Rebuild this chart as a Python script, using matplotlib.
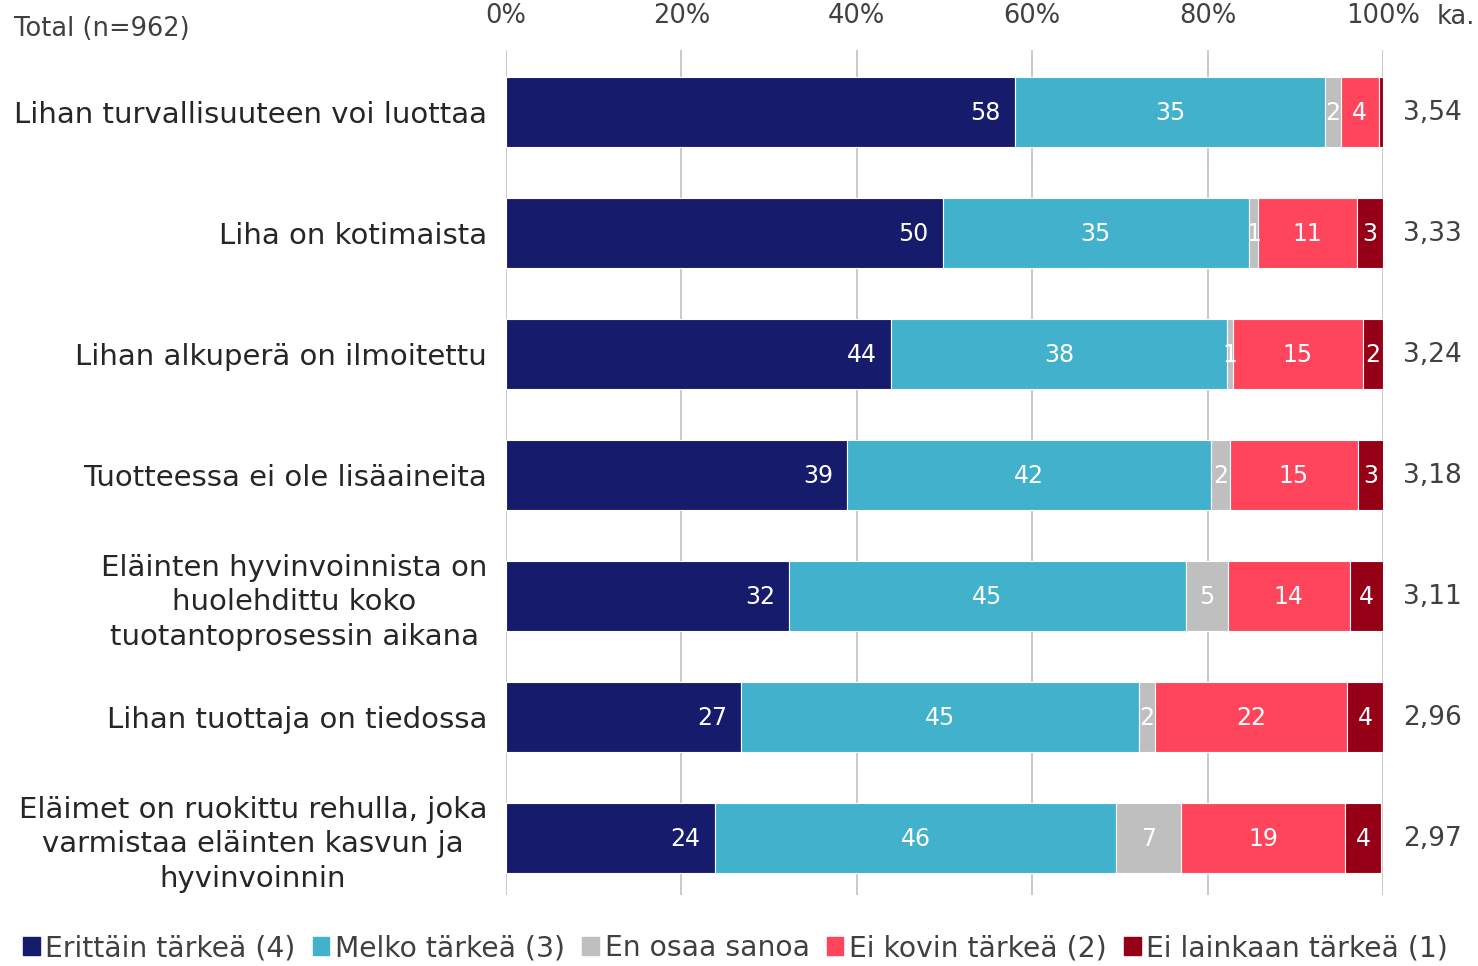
import numpy as np
import matplotlib.pyplot as plt
from matplotlib.patches import Patch

categories = [
    'Lihan turvallisuuteen voi luottaa',
    'Liha on kotimaista',
    'Lihan alkuperä on ilmoitettu',
    'Tuotteessa ei ole lisäaineita',
    'Eläinten hyvinvoinnista on\nhuolehdittu koko\ntuotantoprosessin aikana',
    'Lihan tuottaja on tiedossa',
    'Eläimet on ruokittu rehulla, joka\nvarmistaa eläinten kasvun ja\nhyvinvoinnin',
]
series_names = ['Erittäin tärkeä (4)', 'Melko tärkeä (3)', 'En osaa sanoa',
                'Ei kovin tärkeä (2)', 'Ei lainkaan tärkeä (1)']
erittain = [58.0, 49.8, 43.9, 38.9, 32.3, 26.8, 23.8]
melko = [35.4, 34.9, 38.3, 41.5, 45.2, 45.4, 45.8]
en_osaa = [1.8, 1.1, 0.7, 2.1, 4.8, 1.8, 7.4]
ei_kovin = [4.3, 11.2, 14.8, 14.6, 13.9, 21.9, 18.7]
ei_lainkaan = [0.5, 3.0, 2.3, 3.0, 3.9, 4.1, 4.1]
means = ['3,54', '3,33', '3,24', '3,18', '3,11', '2,96', '2,97']
colors = ['#161c6b', '#41b1cc', '#bfbfbf', '#ff455b', '#960016']
txt = '#404040'

fig = plt.figure(figsize=(14.78, 9.66), dpi=100)
ax = fig.add_axes([506 / 1478, 1 - 895 / 966, 877 / 1478, 845 / 966])

y = np.arange(len(categories))
left = np.zeros(len(categories))
for i, (vals, col) in enumerate(zip([erittain, melko, en_osaa, ei_kovin, ei_lainkaan], colors)):
    vals = np.array(vals)
    ax.barh(y, vals, left=left, height=0.58, color=col, edgecolor='white',
            linewidth=0.8, zorder=3)
    for yi, l, v in zip(y, left, vals):
        if round(v) > 0:
            if i == 0:
                ax.text(l + v - 1.6, yi + 0.01, f'{round(v):d}', ha='right', va='center',
                        color='white', fontsize=17, zorder=4)
            else:
                ax.text(l + v / 2, yi + 0.01, f'{round(v):d}', ha='center', va='center',
                        color='white', fontsize=17, zorder=4)
    left += vals

ax.set_xlim(0, 100)
ax.set_ylim(6.47, -0.512)
ax.set_xticks(range(0, 101, 20))
ax.set_xticklabels([f'{t}%' for t in range(0, 101, 20)])
ax.xaxis.tick_top()
ax.tick_params(axis='x', length=0, pad=15, labelsize=18.5, labelcolor=txt)
ax.set_yticks(y)
ax.set_yticklabels(categories, fontsize=21, color='#262626',
                   multialignment='center', linespacing=1.3)
ax.tick_params(axis='y', length=0, pad=13.5)
ax.grid(axis='x', color='#c0c0c0', linewidth=1.2, zorder=0)
for s in ax.spines.values():
    s.set_visible(False)

for yi, m in zip(y, means):
    ax.text(102.3, yi + 0.01, m, ha='left', va='center', fontsize=19, color=txt)
fig.text(1437 / 1478, 1 - 17 / 966, 'ka.', ha='left', va='center',
         fontsize=18.5, color=txt)
fig.text(14 / 1478, 1 - 29 / 966, 'Total (n=962)', ha='left', va='center',
         fontsize=18.5, color=txt)

handles = [Patch(color=c) for c in colors]
fig.legend(handles, series_names, loc='center', bbox_to_anchor=(0.4976, 1 - 948 / 966),
           ncol=5, frameon=False, fontsize=20.3, handlelength=0.6, handleheight=0.6,
           handletextpad=0.2, columnspacing=0.6, labelcolor=txt)

plt.savefig('out.png')
